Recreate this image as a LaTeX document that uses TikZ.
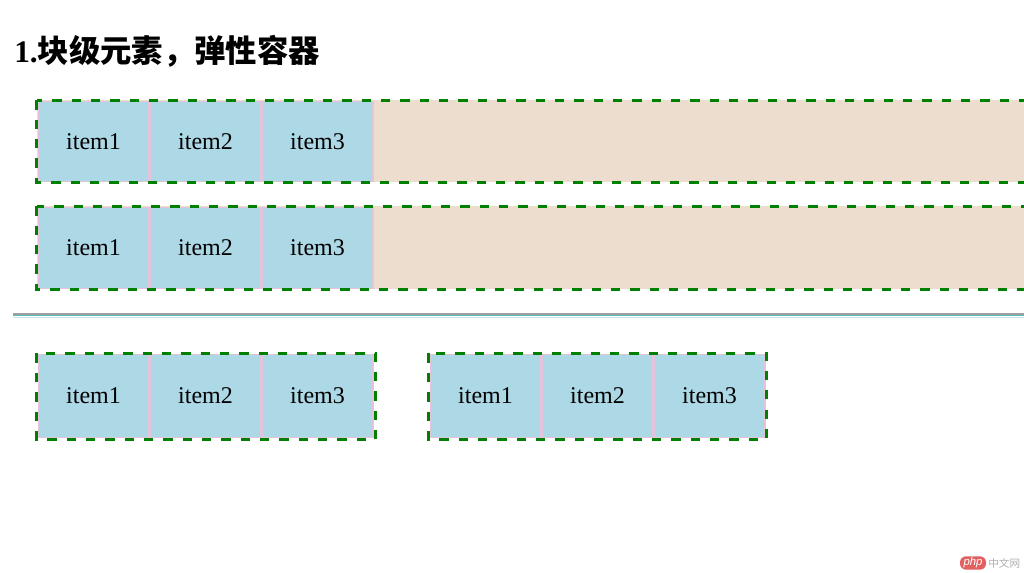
\documentclass[tikz,border=0pt]{standalone}
\usepackage{fontspec}
\setmainfont{Liberation Serif}
\newfontfamily\cjk{Noto Sans CJK SC}
\newfontfamily\wmsans{Liberation Sans}
\definecolor{boxgreen}{RGB}{0,128,0}
\definecolor{cellblue}{RGB}{173,216,230}
\definecolor{cellpink}{RGB}{228,196,220}
\definecolor{beige}{RGB}{237,221,206}
\definecolor{hrgray}{RGB}{160,160,160}
\definecolor{hrteal}{RGB}{90,184,184}
\definecolor{hrlight}{RGB}{200,230,230}
\definecolor{wmred}{RGB}{226,96,96}
\definecolor{wmgray}{RGB}{175,175,175}
\begin{document}
\begin{tikzpicture}[x=0.75pt,y=-0.75pt,
  box/.style={draw=boxgreen,line width=2.25pt,dash pattern=on 7pt off 7.5pt},
  cell/.style={draw=cellpink,line width=0.9pt,fill=cellblue,minimum width=83.1pt,
    minimum height=60.3pt,inner sep=0pt,font=\fontsize{18}{20}\selectfont},
  tallcell/.style={cell,minimum height=62.6pt},
  back/.style={fill=beige}]
\useasboundingbox (0,0) rectangle (1024,573);
\clip (0,0) rectangle (1024,573);

% title
\node[anchor=base west,inner sep=0pt,font=\fontsize{23.5}{28}\selectfont\bfseries] (title) at (14,63)
  {1.{\cjk 块级元素，弹性容器}};

% row 1
\fill[back] (36.5,100.5) rectangle (1040,182.5);
\node[cell] (r1a) at (93.5,141.5) {item1};
\node[cell] (r1b) at (205.5,141.5) {item2};
\node[cell] (r1c) at (317.5,141.5) {item3};
\draw[box] (36.5,100.5) rectangle (1040,182.5);

% row 2
\fill[back] (36.5,206.5) rectangle (1040,289.5);
\node[cell] (r2a) at (93.5,248) {item1};
\node[cell] (r2b) at (205.5,248) {item2};
\node[cell] (r2c) at (317.5,248) {item3};
\draw[box] (36.5,206.5) rectangle (1040,289.5);

% separator
\draw[hrgray,line width=1.3pt] (13,313.8) -- (1030,313.8);
\draw[hrteal,line width=1.3pt] (13,315.6) -- (1030,315.6);
\draw[hrlight,line width=0.75pt] (13,317.2) -- (1030,317.2);

% row 3 left
\node[tallcell] (r3a) at (93.5,396) {item1};
\node[tallcell] (r3b) at (205.5,396) {item2};
\node[tallcell] (r3c) at (317.5,396) {item3};
\draw[box] (36.5,353.5) rectangle (375.5,439.5);

% row 3 right
\node[tallcell] (r4a) at (485.5,396) {item1};
\node[tallcell] (r4b) at (597.5,396) {item2};
\node[tallcell] (r4c) at (709.5,396) {item3};
\draw[box] (428.5,353.5) rectangle (766.5,439.5);

% watermark
\node[fill=wmred,rounded corners=4.5pt,inner sep=0pt,minimum width=19.5pt,minimum height=10pt,
  text=white,font=\wmsans\itshape\fontsize{8.5}{9}\selectfont] (wmphp) at (973,563) {php};
\node[anchor=west,inner sep=0pt,text=wmgray,font=\cjk\fontsize{8}{9}\selectfont] (wmtext) at (988,563) {中文网};
\end{tikzpicture}
\end{document}
